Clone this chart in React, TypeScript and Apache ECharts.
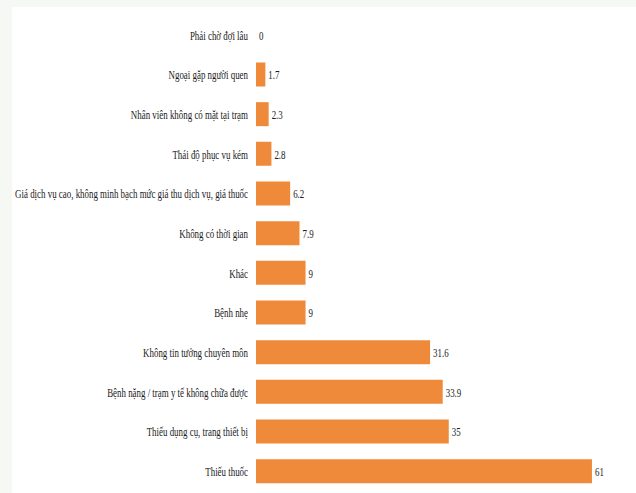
import React, { useEffect, useRef } from "react";
import * as echarts from "echarts";

const categories = [
  "Phải chờ đợi lâu",
  "Ngoại gặp người quen",
  "Nhân viên không có mặt tại trạm",
  "Thái độ phục vụ kém",
  "Giá dịch vụ cao, không minh bạch mức giá thu dịch vụ, giá thuốc",
  "Không có thời gian",
  "Khác",
  "Bệnh nhẹ",
  "Không tin tưởng chuyên môn",
  "Bệnh nặng / trạm y tế không chữa được",
  "Thiếu dụng cụ, trang thiết bị",
  "Thiếu thuốc",
];
const values = [0, 1.7, 2.3, 2.8, 6.2, 7.9, 9, 9, 31.6, 33.9, 35, 61];
const valueLabels = ["0", "1.7", "2.3", "2.8", "6.2", "7.9", "9", "9", "31.6", "33.9", "35", "61"];

const FAMILY = "Liberation Serif";
const SIZE = 13.5;
const SX = 0.66;

export default function App() {
  const ref = useRef<HTMLDivElement>(null);
  useEffect(() => {
    if (!ref.current) return;
    const chart = echarts.init(ref.current, null, { renderer: "svg" });
    chart.setOption({
      animation: false,
      backgroundColor: "#ffffff",
      grid: { left: 244, right: 22, top: 8, bottom: 2 },
      xAxis: {
        type: "value",
        min: 0,
        max: 65,
        show: false,
      },
      yAxis: {
        type: "category",
        data: categories,
        inverse: true,
        axisLine: { show: false },
        axisTick: { show: false },
        axisLabel: { show: false },
      },
      series: [
        {
          type: "bar",
          data: values,
          barWidth: 24,
          itemStyle: { color: "#ef8a3b" },
          silent: true,
        },
        {
          type: "custom",
          silent: true,
          clip: false,
          data: values.map((v, i) => [v, i]),
          encode: { x: 0, y: 1 },
          renderItem: (params: any, api: any) => {
            const idx = params.dataIndex;
            const base = api.coord([0, api.value(1)]);
            const end = api.coord([api.value(0), api.value(1)]);
            return {
              type: "group",
              children: [
                {
                  type: "text",
                  x: base[0] - 8,
                  y: base[1],
                  scaleX: SX,
                  style: {
                    text: categories[idx],
                    x: 0,
                    y: 0,
                    align: "right",
                    verticalAlign: "middle",
                    fontFamily: FAMILY,
                    fontSize: SIZE,
                    fill: "#1a1a1a",
                  },
                },
                {
                  type: "text",
                  x: end[0] + 3,
                  y: end[1],
                  scaleX: SX,
                  style: {
                    text: valueLabels[idx],
                    x: 0,
                    y: 0,
                    align: "left",
                    verticalAlign: "middle",
                    fontFamily: FAMILY,
                    fontSize: SIZE,
                    fill: "#1a1a1a",
                  },
                },
              ],
            };
          },
        },
      ],
    });
    return () => chart.dispose();
  }, []);
  return (
    <div style={{ position: "fixed", left: 0, top: 0, width: 636, height: 493, background: "#f6f8f3" }}>
      <div ref={ref} style={{ position: "absolute", left: 12, top: 7, width: 624, height: 486 }} />
    </div>
  );
}
